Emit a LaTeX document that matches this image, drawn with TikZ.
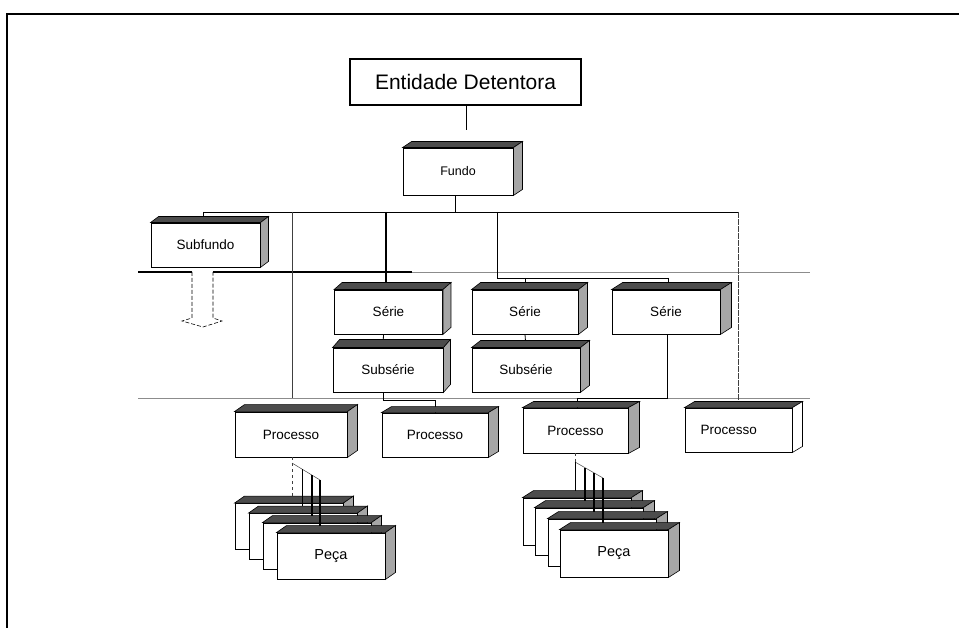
\documentclass[tikz,border=0pt]{standalone}
\usepackage{fontspec}
\setmainfont{Liberation Sans}
\usetikzlibrary{calc}
\tikzset{
  blk/.style={draw, line width=0.9pt, fill=white, minimum width=108pt, minimum height=45pt,
    inner sep=0pt, font=\fontsize{13.5}{16}\selectfont},
  card/.style={blk, minimum height=46pt},
  slabtop/.style={fill=black!70, draw=black, line width=0.6pt},
  slabside/.style={fill=black!35, draw=black, line width=0.6pt},
  conn/.style={line width=0.8pt},
  thinconn/.style={line width=0.5pt, black!75},
  sep/.style={line width=0.6pt, black!45},
}
\newcommand\slab[3]{%
  \filldraw[slabtop] (#1.north west) -- ++(#2,-#3) -- ($(#1.north east)+(#2,-#3)$) -- (#1.north east) -- cycle;
  \filldraw[slabside] (#1.north east) -- ++(#2,-#3) -- ($(#1.south east)+(#2,-#3)$) -- (#1.south east) -- cycle;}
\begin{document}
\begin{tikzpicture}[x=1pt,y=-1pt]
\useasboundingbox (0,0) rectangle (959,628);
% frame
\draw[line width=2pt] (7,628) -- (7,14) -- (959,14);

% separators
\draw[line width=2.2pt] (138,272) -- (192,272);
\draw[line width=2.2pt] (213,272) -- (412,272);
\draw[sep] (412,272) -- (810,272);
\draw[sep] (138,398) -- (810,398);

% dashed arrow under Subfundo
\draw[line width=0.6pt, dashed, dash pattern=on 4pt off 2pt] (192,272) -- (192,318) -- (182,321) -- (203,327) -- (222,321) -- (213,318) -- (213,272);

% top entity
\node[draw, line width=1.8pt, minimum width=231pt, minimum height=46pt, inner sep=0pt,
      font=\fontsize{21}{25}\selectfont] (ent) at (465.5,82) {Entidade Detentora};
\coordinate (entend) at (466,130);
\draw[conn] (ent.south -| entend) -- (entend);

% bus coordinates
\coordinate (bL) at (203,212);
\coordinate (bR) at (738,212);
\coordinate (fb) at (455,212);
\coordinate (b2) at (292,212);
\coordinate (b3) at (386,212);
\coordinate (b4) at (497,212);
\coordinate (s23) at (497,278);
\coordinate (s3c) at (668,278);
\coordinate (v2) at (292,398);

% blocks (front faces)
\node[blk, minimum width=110pt, minimum height=47pt, font=\fontsize{12.5}{15}\selectfont] (fundo) at (458,171.5) {Fundo};
\node[blk, minimum width=109pt, minimum height=44pt] (subfundo) at (205.5,245) {Subfundo};
\node[blk, minimum height=44pt] (serie1) at (388.5,312) {Série};
\node[blk, minimum width=106pt, minimum height=44pt] (serie2) at (525,312) {Série};
\node[blk, minimum height=44pt] (serie3) at (666,312) {Série};
\node[blk, minimum width=110pt, minimum height=44pt] (subserie1) at (388,370) {Subsérie};
\node[blk, minimum height=44pt] (subserie2) at (526,370) {Subsérie};
\node[blk, minimum width=112pt] (proc1) at (291,434.5) {Processo};
\node[blk, minimum width=106pt, minimum height=44pt] (proc2) at (435,435) {Processo};
\node[blk, minimum width=105pt] (proc3) at (575.5,430.5) {Processo};
\node[blk, minimum width=107pt, minimum height=44pt, text width=96pt, align=left] (proc4) at (738.5,430) {\hspace*{10pt}Processo};

% connectors
\draw[conn] (fundo.south -| fb) -- (fb);
\draw[conn] (bL) -- (bR);
\draw[conn] (bL) -- (subfundo.north -| bL);
\draw[thinconn] (b2) -- (v2);
\draw[line width=1.2pt] (b3) -- (serie1.north -| b3);
\draw[conn] (b4) -- (s23) -- (s3c);
\draw[conn] (serie2.north |- s23) -- (serie2.north);
\draw[conn] (s3c) -- (serie3.north -| s3c);
\draw[thinconn, dash pattern=on 6pt off 1pt] (bR) -- (proc4.north -| bR);
\draw[conn] ($(serie1.south)+(-5,0)$) -- ($(subserie1.north)+(-5,0)$);
\draw[conn] (serie2.south) -- (subserie2.north);
\coordinate (k1) at (383,400);
\coordinate (k2) at (435,400);
\draw[conn] (subserie1.south -| k1) -- (k1) -- (k2) -- (proc2.north);
\coordinate (k3) at (667,398);
\coordinate (k4) at (577,398);
\draw[conn] (serie3.south -| k3) -- (k3) -- (k4) -- (proc3.north -| k4);

% slabs
\slab{fundo}{9}{6}
\slab{subfundo}{8}{6}
\slab{serie1}{8}{7}
\slab{serie2}{9}{7}
\slab{serie3}{11}{7}
\slab{subserie1}{7}{8}
\slab{subserie2}{9}{7}
\slab{proc1}{10}{7}
\slab{proc2}{10}{6}
\slab{proc3}{11}{6}
\filldraw[slabtop] (proc4.north west) -- ++(10,-6) -- ($(proc4.north east)+(10,-6)$) -- (proc4.north east) -- cycle;
\filldraw[fill=white, draw=black, line width=0.6pt] (proc4.north east) -- ++(10,-6) -- ($(proc4.south east)+(10,-6)$) -- (proc4.south east) -- cycle;

% left Peça stack
\node[card] (pla) at (289,526.5) {};
\slab{pla}{10}{7}
\node[card] (plb) at (303,536.5) {};
\slab{plb}{10}{7}
\node[card] (plc) at (317,546) {};
\slab{plc}{10}{7}
\node[card, font=\fontsize{14.5}{17}\selectfont] (pld) at (331,556) {Peça};
\slab{pld}{10}{7}
\coordinate (lt) at (292,463);
\coordinate (lt2) at (302,469);
\coordinate (lt3) at (312,475);
\coordinate (lt4) at (320,480);
\draw[thinconn, dashed] (proc1.south -| lt) -- (lt);
\draw[thinconn] (lt) -- (lt4);
\draw[thinconn, dashed] (lt) -- ($(pla.north -| lt)+(0,-7)$);
\draw[conn] (lt2) -- ($(plb.north -| lt2)+(0,-7)$);
\draw[line width=1.3pt] (lt3) -- ($(plc.north -| lt3)+(0,-7)$);
\draw[line width=1.3pt] (lt4) -- ($(pld.north -| lt4)+(0,-7)$);

% right Peça stack
\node[card, minimum height=47pt] (pra) at (577,521.5) {};
\slab{pra}{11}{7}
\node[card, minimum height=47pt] (prb) at (589,531.5) {};
\slab{prb}{11}{7}
\node[card, minimum height=47pt] (prc) at (602,542.5) {};
\slab{prc}{11}{7}
\node[card, minimum height=47pt, font=\fontsize{14.5}{17}\selectfont] (prd) at (614,553.5) {Peça};
\slab{prd}{11}{7}
\coordinate (rt) at (575,462);
\coordinate (rt2) at (585,468);
\coordinate (rt3) at (594,473);
\coordinate (rt4) at (603,478);
\draw[thinconn, dashed] (proc3.south -| rt) -- (rt);
\draw[thinconn] (rt) -- (rt4);
\draw[conn] (rt) -- ($(pra.north -| rt)+(0,-7)$);
\draw[line width=1.3pt] (rt2) -- ($(prb.north -| rt2)+(0,-7)$);
\draw[line width=1.3pt] (rt3) -- ($(prc.north -| rt3)+(0,-7)$);
\draw[line width=1.3pt] (rt4) -- ($(prd.north -| rt4)+(0,-7)$);
\end{tikzpicture}
\end{document}
